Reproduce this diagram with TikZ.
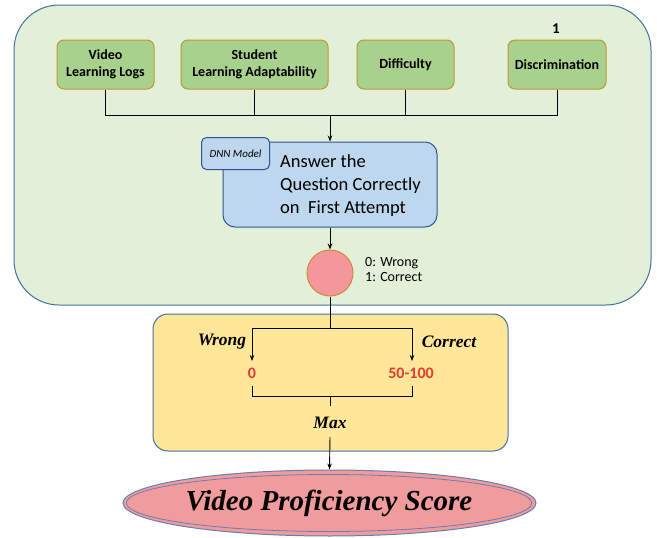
\documentclass[tikz,border=0pt]{standalone}
\usepackage{fontspec}
\setmainfont{Liberation Serif}
\newfontfamily\carlito{Carlito}
\usetikzlibrary{arrows.meta,shapes.geometric,positioning}
\definecolor{panelgreen}{HTML}{E2EFD9}
\definecolor{panelline}{HTML}{41719C}
\definecolor{boxgreen}{HTML}{A9D18E}
\definecolor{boxline}{HTML}{BF9A30}
\definecolor{boxblue}{HTML}{BDD7EE}
\definecolor{blueline}{HTML}{2F5597}
\definecolor{boxyellow}{HTML}{FFE699}
\definecolor{dotpink}{HTML}{F4979A}
\definecolor{dotline}{HTML}{D08A3A}
\definecolor{scorepink}{HTML}{F19C9C}
\definecolor{scoreline}{HTML}{6A7DB0}
\definecolor{numred}{HTML}{E03C31}
\begin{document}
\begin{tikzpicture}[x=1pt,y=-1pt,
  feature/.style={draw=boxline,line width=1pt,fill=boxgreen,rounded corners=7pt,
    font=\carlito\bfseries\fontsize{14}{17}\selectfont,align=center,inner sep=0pt},
  wire/.style={line width=0.9pt,black},
  arr/.style={wire,-{Stealth[length=6pt,width=4.5pt]}},
  tag/.style={font=\bfseries\itshape\fontsize{17.5}{20}\selectfont},
  num/.style={font=\carlito\bfseries\fontsize{16}{18}\selectfont,text=numred}]
\useasboundingbox (0,0) rectangle (657,538);

% panels
\draw[panelline,line width=1pt,fill=panelgreen,rounded corners=45pt] (14,5) rectangle (651,305);
\draw[panelline,line width=1pt,fill=boxyellow,rounded corners=15pt] (153,314) rectangle (508,451);

% input features
\node[feature,minimum width=97pt,minimum height=49pt] (vll) at (105.5,64.5) {Video\\Learning Logs};
\node[feature,minimum width=147pt,minimum height=49pt] (sla) at (254.5,64.5) {Student\\Learning Adaptability};
\node[feature,minimum width=97pt,minimum height=49pt] (dif) at (405.5,64.5) {Difficulty};
\node[feature,minimum width=98pt,minimum height=49pt] (dis) at (557,64.5) {Discrimination};
\node[font=\carlito\bfseries\fontsize{15}{17}\selectfont] (one) at (556,29) {1};

% model
\node[draw=blueline,line width=1pt,fill=boxblue,rounded corners=12pt,
  minimum width=214pt,minimum height=85pt] (ans) at (330,184.5) {};
\node[anchor=west,align=left,font=\carlito\fontsize{18.5}{23}\selectfont,inner sep=0pt] (anstext) at (280,186)
  {Answer the\\Question Correctly\\on\ \ First Attempt};
\node[draw=blueline,line width=1pt,fill=boxblue,rounded corners=5pt,
  minimum width=68pt,minimum height=32pt,anchor=north west,inner sep=0pt,
  font=\carlito\itshape\fontsize{11}{13}\selectfont] (dnn) at (201,137) {DNN Model};

% feature merge
\coordinate (bus) at (330,115);
\draw[wire] (vll.south) |- (bus);
\draw[wire] (dis.south) |- (bus);
\draw[wire] (sla.south) -- (sla.south |- bus);
\draw[wire] (dif.south) -- (dif.south |- bus);
\draw[arr] (bus) -- (ans.north);

% binary outcome
\node[circle,draw=dotline,line width=1pt,fill=dotpink,minimum size=46pt,inner sep=0pt] (out) at (330,273) {};
\node[anchor=west,align=left,font=\carlito\fontsize{14}{15}\selectfont,inner sep=0pt] (outlbl) at (365,270) {0: Wrong\\1: Correct};
\draw[arr] (ans.south) -- (out.north);

% scoring branch
\coordinate (split) at (330,328);
\node[num] (zero) at (252,373) {0};
\node[num] (range) at (411,373) {50-100};
\node[tag] (wrong) at (222,342) {Wrong};
\node[tag] (correct) at (449,342) {Correct};
\draw[wire] (out.south) -- (split);
\draw[arr] (split) -| (252,361);
\draw[arr] (split) -| (412,361);

% max bracket
\coordinate (mx) at (330,396);
\draw[wire] (252,386) -- (252,396) -- (412,396) -- (412,386);
\draw[wire] (mx) -- (330,406);
\node[tag] (max) at (330,423) {Max};

% final score
\node[ellipse,draw=scoreline,line width=1pt,fill=scorepink,minimum width=413pt,minimum height=66pt,inner sep=0pt] (score) at (329.5,503) {};
\node[ellipse,draw=scoreline,line width=0.8pt,minimum width=372pt,minimum height=57pt,inner sep=0pt,
  font=\bfseries\itshape\fontsize{29}{32}\selectfont] (scoretext) at (329,503) {Video Proficiency Score};
\draw[arr] (330,437) -- (score.north);
\end{tikzpicture}
\end{document}
